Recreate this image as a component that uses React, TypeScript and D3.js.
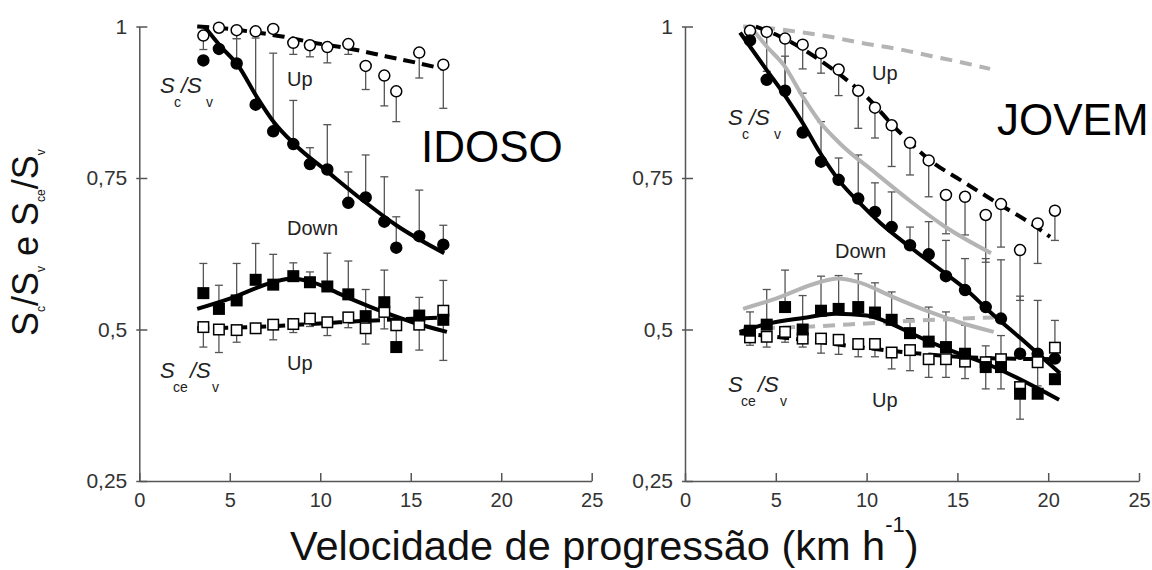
import React, { useEffect, useRef } from "react";
import * as d3 from "d3";

const FONT = "'Liberation Sans', Arial, Helvetica, sans-serif";

const xTickValues = [0, 5, 10, 15, 20, 25];
const yTickValues = [0.25, 0.5, 0.75, 1];

type P = [number, number];

// ---------- IDOSO ----------
const idosoSpeed = [3.54, 4.4, 5.38, 6.43, 7.4, 8.51, 9.43, 10.39, 11.55, 12.51, 13.54, 14.2, 15.47, 16.8];
const idosoScUp = [0.985, 0.998, 0.994, 0.992, 0.996, 0.973, 0.969, 0.966, 0.971, 0.935, 0.919, 0.893, 0.957, 0.937];
const idosoScUpErr = [0.962, null, 0.98, null, null, 0.954, 0.95, 0.94, 0.954, 0.896, 0.869, 0.843, 0.915, 0.865];
const idosoScDown = [0.944, 0.963, 0.939, 0.871, 0.827, 0.806, 0.773, 0.764, 0.709, 0.718, 0.678, 0.635, 0.654, 0.64];
const idosoScDownErr = [null, null, 0.98, 0.981, 0.956, 0.878, 0.8, 0.838, 0.76, 0.788, 0.752, 0.686, 0.73, 0.672];
const idosoSceDown = [0.56, 0.534, 0.548, 0.582, 0.574, 0.588, 0.578, 0.571, 0.558, 0.522, 0.545, 0.471, 0.523, 0.516];
const idosoSceDownErr = [0.609, 0.573, 0.609, 0.642, 0.624, 0.61, 0.595, 0.626, 0.613, 0.566, 0.598, 0.51, 0.553, 0.581];
const idosoSceUp = [0.504, 0.5, 0.499, 0.502, 0.508, 0.509, 0.518, 0.512, 0.52, 0.502, 0.529, 0.507, 0.508, 0.531];
const idosoSceUpErr = [0.471, 0.462, 0.479, null, 0.483, 0.495, 0.505, 0.49, 0.503, 0.476, 0.501, null, 0.466, 0.449];

const idosoScUpFit: P[] = [[3.2, 1.0], [5, 0.996], [6.5, 0.99], [8, 0.983], [9.5, 0.974], [11.7, 0.963], [13.6, 0.951], [15.5, 0.939], [16.8, 0.93]];
const idosoScDownFit: P[] = [[3.6, 1.0], [4.5, 0.967], [5.45, 0.936], [6.47, 0.885], [7.44, 0.842], [8.53, 0.807], [10.5, 0.758], [12.4, 0.712], [14.2, 0.672], [16.85, 0.626]];
const idosoSceDownFit: P[] = [[3.2, 0.534], [5, 0.551], [7.4, 0.578], [8.4, 0.584], [9.45, 0.579], [11.5, 0.553], [13.3, 0.531], [15.1, 0.512], [17, 0.496]];
const idosoSceUpFit: P[] = [[3.2, 0.502], [7, 0.505], [10, 0.51], [13, 0.515], [17, 0.52]];

// ---------- JOVEM ----------
const jovemSpeed = [3.58, 4.5, 5.51, 6.48, 7.49, 8.46, 9.54, 10.46, 11.38, 12.39, 13.42, 14.37, 15.42, 16.56, 17.4, 18.45, 19.42, 20.37];
const jovemScUp = [0.993, 0.991, 0.98, 0.97, 0.956, 0.929, 0.894, 0.866, 0.837, 0.808, 0.779, 0.722, 0.719, 0.689, 0.707, 0.631, 0.675, 0.696];
const jovemScUpErr = [null, 0.926, 0.901, 0.93, 0.923, 0.886, 0.832, 0.816, 0.769, 0.755, 0.719, 0.658, 0.656, 0.611, 0.636, 0.548, 0.609, 0.647];
const jovemScDown = [0.977, 0.912, 0.894, 0.825, 0.777, 0.747, 0.716, 0.694, 0.669, 0.639, 0.624, 0.588, 0.565, 0.537, 0.518, 0.46, 0.46, 0.452];
const jovemScDownErr = [null, null, 0.951, 0.89, 0.843, 0.783, 0.788, 0.742, 0.727, 0.669, 0.678, 0.647, 0.617, 0.617, 0.615, 0.555, 0.548, null];
const jovemSceDown = [0.498, 0.508, 0.537, 0.5, 0.531, 0.534, 0.537, 0.528, 0.516, 0.494, 0.48, 0.471, 0.46, 0.438, 0.438, 0.394, 0.394, 0.418];
const jovemSceDownErr = [0.529, 0.566, 0.598, 0.556, 0.588, 0.589, 0.592, 0.577, 0.562, 0.518, 0.537, 0.529, 0.507, 0.473, 0.49, 0.352, null, null];
const jovemSceUp = [0.487, 0.488, 0.496, 0.485, 0.485, 0.483, 0.476, 0.476, 0.462, 0.466, 0.451, 0.451, 0.447, 0.446, 0.451, 0.405, 0.446, 0.47];
const jovemSceUpErr = [0.474, 0.471, 0.479, 0.471, 0.461, 0.459, 0.455, 0.455, 0.435, 0.432, 0.421, 0.421, 0.419, 0.402, 0.402, null, 0.407, 0.515];

const jovemScUpFit: P[] = [[3.9, 1.0], [5.2, 0.984], [7.4, 0.945], [8.9, 0.912], [10, 0.884], [11.6, 0.832], [13.5, 0.779], [15.2, 0.746], [17.4, 0.705], [19.4, 0.668], [20.1, 0.653]];
const jovemScDownFit: P[] = [[3.03, 0.99], [4.5, 0.928], [5.6, 0.882], [6.5, 0.84], [7.43, 0.792], [8.53, 0.744], [9.64, 0.708], [10.74, 0.676], [12.57, 0.632], [14, 0.6], [15.4, 0.568], [16.8, 0.529], [18.5, 0.485], [20.65, 0.428]];
const jovemSceDownFit: P[] = [[3.0, 0.496], [4.5, 0.509], [6.5, 0.519], [8.3, 0.526], [10, 0.523], [11.4, 0.509], [12.5, 0.493], [14.4, 0.468], [16.8, 0.441], [20.6, 0.384]];
const jovemSceUpFit: P[] = [[3.0, 0.494], [5, 0.488], [7, 0.481], [9, 0.473], [11, 0.466], [13, 0.46], [15, 0.455], [17.5, 0.452], [20.5, 0.451]];

type Series = { values: number[]; err: (number | null)[]; shape: "circle" | "square"; filled: boolean };
type Fit = { pts: P[]; dashed: boolean };

const fmtY = (d: number) => String(d).replace(".", ",");

function Panel(props: {
  x0: number; x1: number; speed: number[]; series: Series[]; fits: Fit[]; grayFits: Fit[]; yLabelGap: number;
}) {
  const { x0, x1, speed, series, fits, grayFits } = props;
  const x = d3.scaleLinear().domain([0, 25]).range([x0, x1]);
  const y = d3.scaleLinear().domain([0.25, 1]).range([481, 26.5]);
  const line = d3.line<P>().x((d) => x(d[0])).y((d) => y(d[1])).curve(d3.curveMonotoneX);
  const gx = useRef<SVGGElement>(null);
  const gy = useRef<SVGGElement>(null);

  useEffect(() => {
    const ax = d3.axisBottom(x).tickValues(xTickValues).tickSizeInner(-8).tickSizeOuter(0).tickPadding(12).tickFormat(d3.format("d") as any);
    const sx = d3.select(gx.current!).call(ax as any);
    sx.select(".domain").attr("stroke", "#555").attr("stroke-width", 1.5);
    sx.selectAll(".tick line").attr("stroke", "#555").attr("stroke-width", 1.5);
    sx.selectAll(".tick text").attr("fill", "#333").attr("font-size", 20).attr("font-family", FONT);

    const ay = d3.axisLeft(y).tickValues(yTickValues).tickSizeInner(-8).tickSizeOuter(0).tickPadding(props.yLabelGap).tickFormat(fmtY as any);
    const sy = d3.select(gy.current!).call(ay as any);
    sy.select(".domain").attr("stroke", "#555").attr("stroke-width", 1.5);
    sy.selectAll(".tick line").attr("stroke", "#555").attr("stroke-width", 1.5).attr("x1", -3).attr("x2", 8);
    sy.selectAll(".tick text").attr("fill", "#333").attr("font-size", 21).attr("font-family", FONT);
  }, []);

  const side = 10.5;
  return (
    <g>
      <g ref={gx} transform={`translate(0,${y(0.25)})`} />
      <g ref={gy} transform={`translate(${x(0)},0)`} />
      {series.map((s, si) => (
        <g key={"e" + si} stroke="#555" strokeWidth={1.3}>
          {s.err.map((e, i) =>
            e == null ? null : (
              <g key={i}>
                <line x1={x(speed[i])} x2={x(speed[i])} y1={y(s.values[i])} y2={y(e)} />
                <line x1={x(speed[i]) - 4} x2={x(speed[i]) + 4} y1={y(e)} y2={y(e)} />
              </g>
            )
          )}
        </g>
      ))}
      {grayFits.map((f, i) => (
        <path key={"g" + i} d={line(f.pts)!} fill="none" stroke="#b4b4b4" strokeWidth={4}
          strokeDasharray={f.dashed ? "12,8" : undefined} />
      ))}
      {fits.map((f, i) => (
        <path key={"f" + i} d={line(f.pts)!} fill="none" stroke="#000" strokeWidth={4}
          strokeDasharray={f.dashed ? "12,7" : undefined} />
      ))}
      {series.map((s, si) => (
        <g key={"m" + si}>
          {s.values.map((v, i) =>
            s.shape === "circle" ? (
              <circle key={i} cx={x(speed[i])} cy={y(v)} r={5.5} fill={s.filled ? "#000" : "#fff"} stroke="#000" strokeWidth={1.5} />
            ) : (
              <rect key={i} x={x(speed[i]) - side / 2} y={y(v) - side / 2} width={side} height={side}
                fill={s.filled ? "#000" : "#fff"} stroke="#000" strokeWidth={1.5} />
            )
          )}
        </g>
      ))}
    </g>
  );
}

function Ratio(props: { x: number; y: number; sub: string }) {
  const { x, y, sub } = props;
  const ce = sub === "ce";
  return (
    <text fontFamily={FONT} fill="#222">
      <tspan x={x} y={y} fontSize={22} fontStyle="italic">S</tspan>
      <tspan x={x + (ce ? 13 : 14)} y={y + 14} fontSize={14}>{sub}</tspan>
      <tspan x={x + (ce ? 30 : 21)} y={y} fontSize={22} fontStyle="italic">/S</tspan>
      <tspan x={x + (ce ? 52 : 46)} y={y + 14} fontSize={14}>v</tspan>
    </text>
  );
}

export default function App() {
  const idosoSeries: Series[] = [
    { values: idosoScUp, err: idosoScUpErr, shape: "circle", filled: false },
    { values: idosoScDown, err: idosoScDownErr, shape: "circle", filled: true },
    { values: idosoSceUp, err: idosoSceUpErr, shape: "square", filled: false },
    { values: idosoSceDown, err: idosoSceDownErr, shape: "square", filled: true },
  ];
  const jovemSeries: Series[] = [
    { values: jovemScUp, err: jovemScUpErr, shape: "circle", filled: false },
    { values: jovemScDown, err: jovemScDownErr, shape: "circle", filled: true },
    { values: jovemSceUp, err: jovemSceUpErr, shape: "square", filled: false },
    { values: jovemSceDown, err: jovemSceDownErr, shape: "square", filled: true },
  ];
  const idosoFits: Fit[] = [
    { pts: idosoScUpFit, dashed: true },
    { pts: idosoScDownFit, dashed: false },
    { pts: idosoSceUpFit, dashed: true },
    { pts: idosoSceDownFit, dashed: false },
  ];
  const jovemFits: Fit[] = [
    { pts: jovemScUpFit, dashed: true },
    { pts: jovemScDownFit, dashed: false },
    { pts: jovemSceUpFit, dashed: true },
    { pts: jovemSceDownFit, dashed: false },
  ];

  return (
    <svg width={1152} height={570} style={{ position: "absolute", left: 0, top: 0, background: "#fff" }}
      fontFamily={FONT}>
      <rect width={1152} height={570} fill="#fff" />
      <Panel x0={139.3} x1={591.7} speed={idosoSpeed} series={idosoSeries} fits={idosoFits} grayFits={[]} yLabelGap={12} />
      <Panel x0={685} x1={1139} speed={jovemSpeed} series={jovemSeries} fits={jovemFits} grayFits={idosoFits} yLabelGap={12} />

      <Ratio x={160} y={93} sub="c" />
      <Ratio x={160} y={378} sub="ce" />
      <text x={287} y={86} fontSize={20} fill="#222">Up</text>
      <text x={287} y={235} fontSize={20} fill="#222">Down</text>
      <text x={287} y={370} fontSize={20} fill="#222">Up</text>
      <text x={421} y={162} fontSize={44} fill="#000">IDOSO</text>

      <Ratio x={728} y={125} sub="c" />
      <Ratio x={728} y={392} sub="ce" />
      <text x={872} y={80} fontSize={20} fill="#222">Up</text>
      <text x={835} y={258} fontSize={20} fill="#222">Down</text>
      <text x={872} y={407} fontSize={20} fill="#222">Up</text>
      <text x={997} y={135} fontSize={44} fill="#000">JOVEM</text>

      <text x={290} y={560} fontSize={41.5} fill="#111">
        Velocidade de progressão (km h<tspan fontSize={22} dy={-28}>-1</tspan><tspan dy={28}>)</tspan>
      </text>
      <text transform="translate(38,336) rotate(-90)" fontSize={36} fill="#111">
        S<tspan fontSize={12} dy={7}>c</tspan><tspan dy={-7}>/S</tspan><tspan fontSize={12} dy={7}>v</tspan>
        <tspan dy={-7}> e S</tspan><tspan fontSize={12} dy={7}>ce</tspan><tspan dy={-7}>/S</tspan>
        <tspan fontSize={12} dy={7}>v</tspan>
      </text>
    </svg>
  );
}
